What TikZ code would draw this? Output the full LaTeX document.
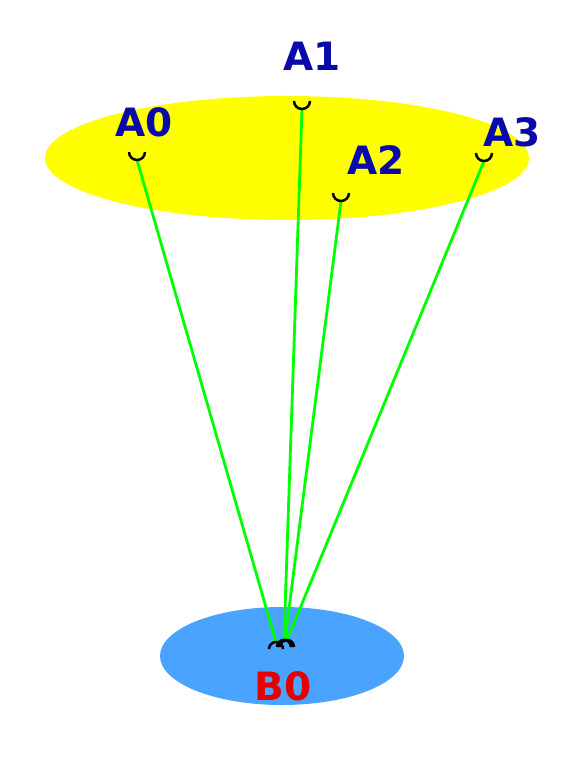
\documentclass[tikz,border=0pt]{standalone}
\usepackage{fontspec}
\setmainfont{DejaVu Sans}
\usepackage{tikz}
\usetikzlibrary{calc}
\definecolor{discyellow}{HTML}{FFFF00}
\definecolor{discblue}{HTML}{4AA3FF}
\definecolor{raygreen}{HTML}{00FF00}
\definecolor{labelblue}{HTML}{0A0AAA}
\definecolor{labelred}{HTML}{E60000}
\tikzset{lbl/.style={font=\fontsize{39}{46}\selectfont\bfseries,inner sep=0pt}}

\begin{document}
\begin{tikzpicture}[x=1pt,y=-1pt,line width=2.5pt]
\useasboundingbox (0,0) rectangle (570,767);
\fill[discyellow] (287,158) ellipse [x radius=242pt, y radius=62pt];
\fill[discblue] (282,656) ellipse [x radius=122pt, y radius=49pt];
%% anchor points
\coordinate (a0) at (137,160);
\coordinate (a1) at (302,109);
\coordinate (a2) at (341,201);
\coordinate (a3) at (484,161);
\coordinate (b0) at (276,642);
\coordinate (b1) at (284,640);
\coordinate (b2) at (285,640);
\coordinate (b3) at (287,640);
\foreach \i in {0,1,2,3}
    \draw[raygreen,line width=2.8pt] (a\i) -- (b\i);
\foreach \i in {0,1,2,3}
    \draw[black] (a\i) ++(-8,-8) arc[start angle=180,end angle=360,radius=8pt];
\foreach \i in {0,1,2,3}
    \draw[black] (b\i) ++(-7,7) arc[start angle=180,end angle=0,radius=7pt];
\node[lbl,text=labelblue] (A0) at (144,122) {A0};
\node[lbl,text=labelblue] (A1) at (312,56) {A1};
\node[lbl,text=labelblue] (A2) at (376,160) {A2};
\node[lbl,text=labelblue] (A3) at (512,132) {A3};
\node[lbl,text=labelred] (B0) at (283,686) {B0};
\end{tikzpicture}
\end{document}
